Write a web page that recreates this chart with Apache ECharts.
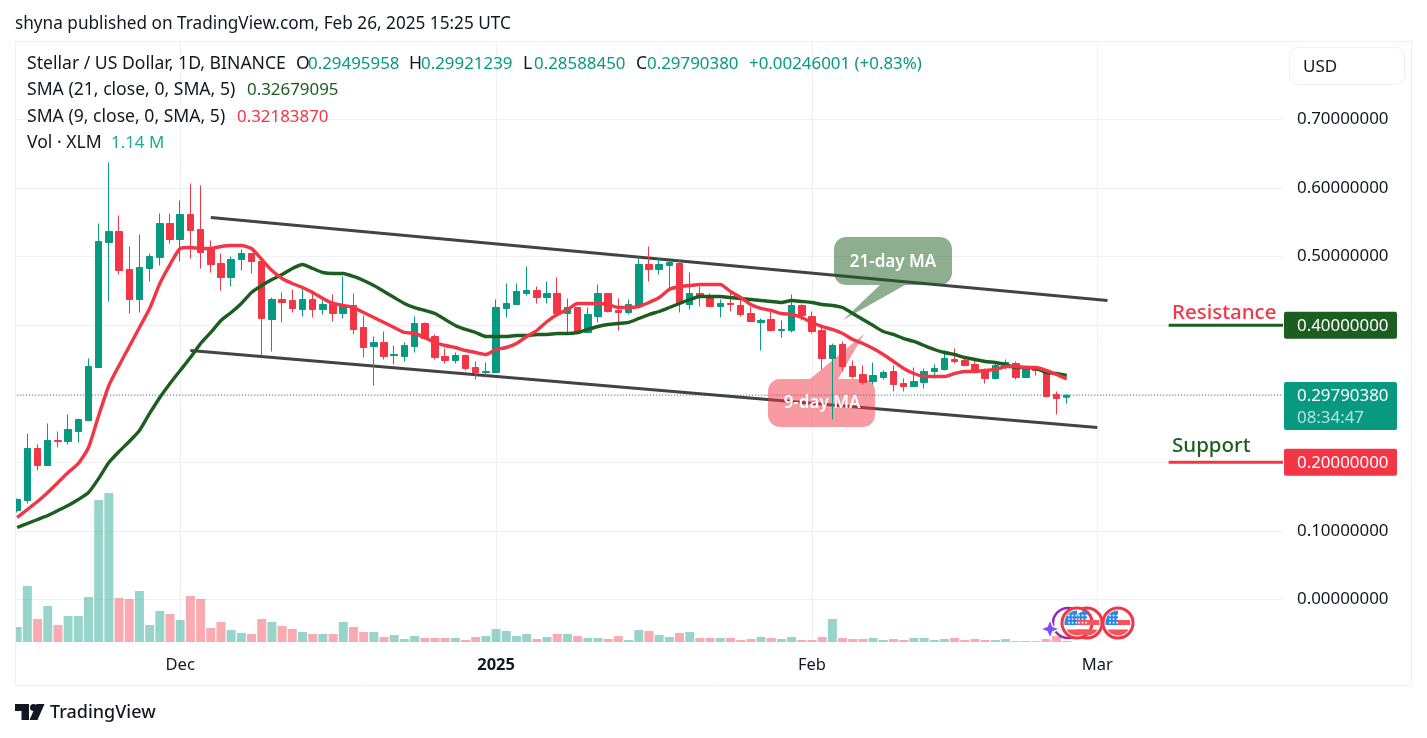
<!DOCTYPE html>
<html>
<head>
<meta charset="utf-8">
<style>html,body{margin:0;padding:0;background:#fff}#c{width:1427px;height:738px}</style>
<script src="https://cdn.jsdelivr.net/npm/echarts@6/dist/echarts.min.js"></script>
</head>
<body>
<div id="c"></div>
<script>
const opens=[.1298,.1444,.2202,.1954,.2319,.2304,.2450,.2610,.3383,.5206,.5367,.4813,.4375,.4827,.4988,.5483,.5250,.5615,.5396,.5104,.4900,.4696,.4958,.5046,.4929,.4083,.4375,.4360,.4229,.4375,.4229,.4302,.4171,.4288,.3967,.3690,.3748,.3558,.3544,.3690,.4025,.3835,.3544,.3485,.3558,.3383,.3310,.3310,.4244,.4302,.4463,.4506,.4404,.4463,.4171,.4258,.3894,.4127,.4463,.4215,.4185,.4288,.4885,.4813,.4871,.4900,.4302,.4463,.4433,.4273,.4317,.4288,.4171,.4040,.4083,.3923,.3923,.4288,.4127,.3923,.3515,.3719,.3398,.3281,.3179,.3238,.3325,.3150,.3106,.3165,.3325,.3354,.3500,.3485,.3427,.3340,.3223,.3398,.3442,.3238,.3354,.3325,.2990,.29495958];
const closes=[.1458,.2202,.1954,.2319,.2304,.2479,.2625,.3398,.5221,.5367,.4798,.4375,.4842,.5002,.5483,.5250,.5615,.5381,.5060,.4885,.4696,.4958,.5046,.4929,.4098,.4375,.4331,.4244,.4375,.4229,.4302,.4171,.4288,.3938,.3675,.3748,.3544,.3573,.3704,.4025,.3806,.3529,.3485,.3558,.3369,.3310,.3325,.4258,.4317,.4492,.4506,.4404,.4463,.4171,.4258,.3879,.4156,.4463,.4200,.4185,.4302,.4885,.4813,.4885,.4915,.4317,.4463,.4404,.4273,.4317,.4302,.4156,.4054,.4069,.3923,.3938,.4288,.4142,.3908,.3515,.3704,.3398,.3252,.3165,.3267,.3310,.3135,.3106,.3179,.3325,.3369,.3515,.3471,.3413,.3325,.3223,.3413,.3456,.3238,.3354,.3340,.2960,.2931,.2979038];
const highs=[.1473,.2421,.2260,.2567,.2450,.2698,.2640,.3515,.5483,.6373,.5600,.5148,.5323,.5046,.5629,.5629,.5819,.6067,.6038,.5236,.5046,.5002,.5104,.5046,.4929,.4404,.4477,.4521,.4535,.4506,.4360,.4448,.4711,.4463,.4142,.3835,.3908,.3704,.3748,.4127,.4040,.3865,.3660,.3602,.3573,.3471,.3456,.4375,.4608,.4608,.4856,.4565,.4638,.4696,.4390,.4258,.4258,.4594,.4463,.4390,.4375,.4973,.5148,.4988,.4944,.4944,.4769,.4565,.4463,.4375,.4492,.4375,.4273,.4098,.4200,.4069,.4448,.4302,.4200,.4011,.3733,.3763,.3485,.3413,.3456,.3340,.3413,.3223,.3383,.3369,.3427,.3631,.3660,.3529,.3500,.3369,.3442,.3500,.3471,.3398,.3398,.3354,.3033,.29921239];
const lows=[.1269,.1400,.1881,.1954,.2217,.2260,.2290,.2610,.3383,.4346,.4740,.4171,.4185,.4638,.4871,.5192,.4929,.4973,.4827,.4769,.4506,.4565,.4798,.4754,.3558,.3617,.4040,.4185,.4127,.4113,.4156,.4054,.4098,.3865,.3529,.3121,.3500,.3427,.3471,.3602,.3792,.3500,.3442,.3442,.3340,.3208,.3238,.3310,.4113,.4302,.4433,.4317,.4317,.4156,.3894,.3865,.3879,.4040,.4185,.3923,.4156,.4258,.4638,.4740,.4506,.4185,.4229,.4273,.4273,.4113,.4200,.4127,.4054,.3631,.3908,.3821,.3894,.4069,.3879,.3354,.2625,.3325,.3223,.3135,.3135,.3208,.3033,.3033,.3106,.3077,.3223,.3340,.3442,.3398,.3325,.3150,.3208,.3354,.3208,.3238,.3267,.2946,.2698,.2858845];
const sma9=[.1196,.1313,.1429,.1560,.1706,.1852,.1983,.2217,.2683,.3121,.3413,.3690,.3967,.4244,.4608,.4885,.5119,.5133,.5119,.5119,.5148,.5163,.5163,.5119,.4958,.4798,.4681,.4608,.4550,.4477,.4390,.4317,.4288,.4258,.4185,.4113,.4040,.3967,.3894,.3879,.3821,.3748,.3704,.3675,.3631,.3602,.3573,.3646,.3675,.3733,.3835,.3923,.4054,.4156,.4229,.4317,.4317,.4317,.4302,.4258,.4258,.4273,.4331,.4404,.4521,.4565,.4579,.4594,.4594,.4594,.4492,.4404,.4302,.4244,.4215,.4171,.4156,.4113,.4040,.3981,.3938,.3879,.3792,.3733,.3660,.3573,.3471,.3369,.3296,.3252,.3252,.3252,.3296,.3325,.3325,.3340,.3354,.3398,.3398,.3383,.3383,.3340,.3281,.3218387];
const sma21=[.1050,.1108,.1167,.1225,.1298,.1371,.1458,.1560,.1765,.1998,.2158,.2304,.2465,.2713,.2946,.3150,.3340,.3529,.3733,.3894,.4069,.4185,.4317,.4477,.4579,.4667,.4740,.4827,.4885,.4827,.4769,.4754,.4754,.4711,.4652,.4579,.4492,.4404,.4317,.4258,.4215,.4171,.4083,.3996,.3938,.3894,.3835,.3835,.3835,.3850,.3850,.3865,.3865,.3879,.3879,.3894,.3938,.3981,.4011,.4025,.4040,.4098,.4156,.4200,.4258,.4317,.4375,.4419,.4419,.4419,.4404,.4390,.4375,.4360,.4346,.4331,.4360,.4346,.4331,.4302,.4288,.4258,.4171,.4083,.3996,.3908,.3865,.3806,.3763,.3704,.3646,.3602,.3573,.3529,.3500,.3471,.3456,.3427,.3383,.3383,.3369,.3310,.3296,.32679095];
const volumes=[17.1,63.8,26.2,41.0,19.4,29.6,29.6,51.3,161.9,169.9,50.2,49.0,58.1,19.4,35.3,31.9,25.1,52.4,49.0,16.0,22.8,13.7,10.3,9.1,26.2,22.8,18.2,14.8,11.4,9.1,9.1,9.1,22.8,17.1,11.4,11.4,5.7,8.0,3.4,6.8,4.6,4.6,4.6,4.6,2.3,5.7,6.8,14.8,12.5,6.8,9.1,3.4,5.7,9.1,9.1,6.8,4.6,4.6,3.4,6.8,2.3,13.7,12.5,8.0,5.7,10.3,11.4,4.6,4.6,4.6,4.6,2.3,3.4,5.7,4.6,3.4,5.7,2.3,2.3,5.7,26.2,4.6,3.4,3.4,4.6,2.3,3.4,2.3,4.6,4.6,2.3,3.4,4.6,2.3,3.4,2.3,2.3,3.4,1.1,1.1,1.1,3.4,6.8,1.14];
const categories=[];
for(let d=new Date(Date.UTC(2024,10,15)),i=0;i<126;i++,d=new Date(d.getTime()+864e5))categories.push(d.toISOString().slice(0,10));
const tickLabels={'2024-12-01':'Dec','2025-01-01':'2025','2025-02-01':'Feb','2025-03-01':'Mar'};
const yTicks=[0,.7];
const upperChannel=[[19,.557],[107,.436]];
const lowerChannel=[[17,.3631],[106,.2508]];
const resistance=.4, support=.2;
const resistanceLine=[[113,resistance],[125,resistance]];
const supportLine=[[113,support],[125,support]];
const lastPrice=closes[closes.length-1];
const lastLine=[[0,lastPrice],[125,lastPrice]];

const UP='#089981',DN='#f23645',GR='#1b5e20',INK='#131722';
const FONT='"Noto Sans",sans-serif';
const chart=echarts.init(document.getElementById('c'),null,{renderer:'canvas'});
const BAND=10.19,LEFT=12.07;
const gw=BAND*126;
const isTick=(i,v)=>tickLabels[v]!==undefined;
const annot=(name,data,color,width,type,z)=>({name,type:'line',xAxisIndex:0,yAxisIndex:0,data,symbol:'none',silent:true,z:z||3,
  lineStyle:{color,width,type:type||'solid',cap:'butt'}});
chart.setOption({
  animation:false,backgroundColor:'#fff',
  grid:[{left:LEFT,width:gw,top:119.5,height:480},{left:LEFT,width:gw,top:41,height:601}],
  xAxis:[
    {type:'category',gridIndex:0,data:categories,show:false,boundaryGap:true},
    {type:'category',gridIndex:1,data:categories,boundaryGap:true,
     axisLine:{show:false},axisTick:{show:false},
     splitLine:{show:true,alignWithLabel:true,interval:isTick,lineStyle:{color:'#f1f1f1',width:1}},
     axisLabel:{interval:isTick,margin:15,color:INK,fontFamily:FONT,fontSize:16.5,hideOverlap:false,
       formatter:v=>v==='2025-01-01'?'{b|'+tickLabels[v]+'}':(tickLabels[v]||''),
       rich:{b:{fontWeight:'bold',fontSize:16.5,color:INK,fontFamily:FONT}}}}
  ],
  yAxis:[
    {type:'value',gridIndex:0,position:'right',min:yTicks[0],max:yTicks[1],interval:.1,
     axisLine:{show:false},axisTick:{show:false},
     splitLine:{show:true,lineStyle:{color:'#f1f1f1',width:1}},
     axisLabel:{margin:1,color:INK,fontFamily:FONT,fontSize:16.9,formatter:v=>v.toFixed(8)}},
    {type:'value',gridIndex:1,min:0,max:685,show:false,splitLine:{show:false}}
  ],
  series:[
    {name:'Vol',type:'bar',xAxisIndex:1,yAxisIndex:1,barWidth:9,silent:true,z:1,
     data:volumes.map((v,i)=>({value:v,itemStyle:{color:closes[i]>=opens[i]?'rgba(8,153,129,.42)':'rgba(242,54,69,.42)'}}))},
    {name:'XLMUSD',type:'candlestick',xAxisIndex:0,yAxisIndex:0,barWidth:7,z:75,silent:true,
     itemStyle:{color:UP,color0:DN,borderColor:UP,borderColor0:DN,borderWidth:1},
     data:opens.map((o,i)=>[o,closes[i],lows[i],highs[i]])},
    {name:'SMA 21',type:'line',xAxisIndex:0,yAxisIndex:0,data:sma21,symbol:'none',smooth:.2,z:76,silent:true,lineStyle:{color:GR,width:3.4}},
    {name:'SMA 9',type:'line',xAxisIndex:0,yAxisIndex:0,data:sma9,symbol:'none',smooth:.2,z:76,silent:true,lineStyle:{color:DN,width:3.4}},
    annot('Upper channel',upperChannel,'#434343',3),
    annot('Lower channel',lowerChannel,'#434343',3),
    annot('Resistance',resistanceLine,GR,3),
    annot('Support',supportLine,DN,3),
    annot('Last price',lastLine,UP,1,[1,2],1)
  ]
});
const LBL=17.6, NUM=16.9;
const T=(x,y,text,fill,size,extra)=>({type:'text',z:(extra&&extra.z)||80,x,y:y+1,style:{text,fill,font:(extra&&extra.weight||'normal')+' '+(size||LBL)+'px '+FONT,textAlign:extra&&extra.align||'left',textVerticalAlign:'middle'}});
const R=(x,y,w,h,fill,r,z,stroke)=>({type:'rect',z:z||60,shape:{x,y,width:w,height:h,r:r||0},style:{fill,stroke:stroke||null,lineWidth:stroke?1:0}});
const PG=(points,fill,z,stroke,lw)=>({type:'polygon',z:z||70,shape:{points},style:{fill,stroke:stroke||null,lineWidth:lw||0}});
const arc=(cx,cy,r,a0,a1,n)=>{const o=[];for(let i=0;i<=n;i++){const a=(a0+(a1-a0)*i/n)*Math.PI/180;o.push([cx+r*Math.cos(a),cy+r*Math.sin(a)]);}return o;};
const box=(x,y,w,h,r,topTail,botTail)=>[
  ...arc(x+r,y+r,r,180,270,6),...(topTail||[]),
  ...arc(x+w-r,y+r,r,270,360,6),
  ...arc(x+w-r,y+h-r,r,0,90,6),...(botTail||[]),
  ...arc(x+r,y+h-r,r,90,180,6)];
const yOf=v=>chart.convertToPixel({yAxisIndex:0},v);
function flag(cx,cy){
  const chord=(yc)=>{const a=Math.asin(yc/12.5)*180/Math.PI;return arc(cx,cy,12.5,a,180-a,14);};
  const out=[
    {type:'circle',z:82,shape:{cx,cy,r:15},style:{fill:'#fff',stroke:DN,lineWidth:3}},
    PG([...arc(cx,cy,12.5,171,270,12),[cx,cy+2]],'#2f86ea',83),
    PG([[cx,cy-3],[cx+12.1,cy-3],[cx+12.4,cy+2],[cx,cy+2]],'#f5545c',83),
    PG(chord(6.5),'#f5545c',83)
  ];
  for(let i=0;i<3;i++)for(let j=0;j<3;j++)out.push({type:'circle',z:84,shape:{cx:cx-8+i*3.6,cy:cy-7.5+j*3.6,r:.9},style:{fill:'#fff'}});
  return out;
}
const last=lastPrice.toFixed(8);
const sx=1050,sy=629;
chart.setOption({graphic:{elements:[
  R(0,0,15,738,'#fff',0,77),
  R(1283,0,13.5,700,'#fff',0,50),
  R(15.5,41.5,1396,644,'none',0,78,'#f0f1f3'),
  T(15,23,'shyna published on TradingView.com, Feb 26, 2025 15:25 UTC',INK,17.2),
  T(27,63,'Stellar / US Dollar, 1D, BINANCE',INK),
  T(296,63,'O',INK),T(308,63,'0.29495958',UP,NUM),
  T(409,63,'H',INK),T(421,63,'0.29921239',UP,NUM),
  T(523,63,'L',INK),T(534,63,'0.28588450',UP,NUM),
  T(636,63,'C',INK),T(647,63,'0.29790380',UP,NUM),
  T(749,63,'+0.00246001 (+0.83%)',UP,NUM),
  T(27,89,'SMA (21, close, 0, SMA, 5)',INK),T(247,89,'0.32679095',GR,NUM),
  T(27,116,'SMA (9, close, 0, SMA, 5)',INK),T(237,116,'0.32183870',DN,NUM),
  T(27,142,'Vol · XLM',INK),T(111,142,'1.14 M','#22ab94',NUM),
  R(1289.5,47.5,115,37,'#fff',8,61,'#eff1f4'),
  T(1303,66,'USD',INK,17),
  PG(box(834,237,118,48,12,null,[[905,285],[843,320],[880,285]]),'rgba(27,94,32,.5)'),
  T(893,261,'21-day MA','#fff',17,{align:'center',weight:'600'}),
  PG(box(768,379,107,48,12,[[810,379],[864,334],[838,379]],null),'rgba(242,54,69,.5)'),
  T(822,402,'9-day MA','#fff',17,{align:'center',weight:'600'}),
  T(1172,312,'Resistance',DN,20.5,{weight:'500'}),
  T(1172,445,'Support',GR,20.5,{weight:'500'}),
  R(1284,yOf(resistance)-13.5,113,27,GR,2),
  T(1297,yOf(resistance),resistance.toFixed(8),'#fff',NUM),
  R(1284,yOf(support)-13.5,113,27,DN,2),
  T(1297,yOf(support),support.toFixed(8),'#fff',NUM),
  R(1284,382,113,48,UP,2),
  T(1297,yOf(lastPrice),last,'#fff',NUM),
  T(1297,417,'08:34:47','rgba(255,255,255,.7)',NUM),
  {type:'circle',z:81,shape:{cx:1068,cy:623,r:15},style:{fill:'none',stroke:'#9c27b0',lineWidth:2.5}},
  PG([[sx,sy-10],[sx+2.8,sy-2.8],[sx+10,sy],[sx+2.8,sy+2.8],[sx,sy+10],[sx-2.8,sy+2.8],[sx-10,sy],[sx-2.8,sy-2.8]],'#7c4dff',81,'#fff',1.5),
  ...flag(1087,623),...flag(1077,623),...flag(1118,623),
  PG([[15,704],[29,704],[29,720],[21.5,720],[21.5,711],[15,711]],INK),
  {type:'circle',z:70,shape:{cx:33.5,cy:707.5,r:3.5},style:{fill:INK}},
  PG([[44.5,704],[37.5,720],[29.5,720],[36.5,704]],INK),
  T(50,712,'TradingView',INK,18,{weight:'500'})
]}});
</script>
</body>
</html>
